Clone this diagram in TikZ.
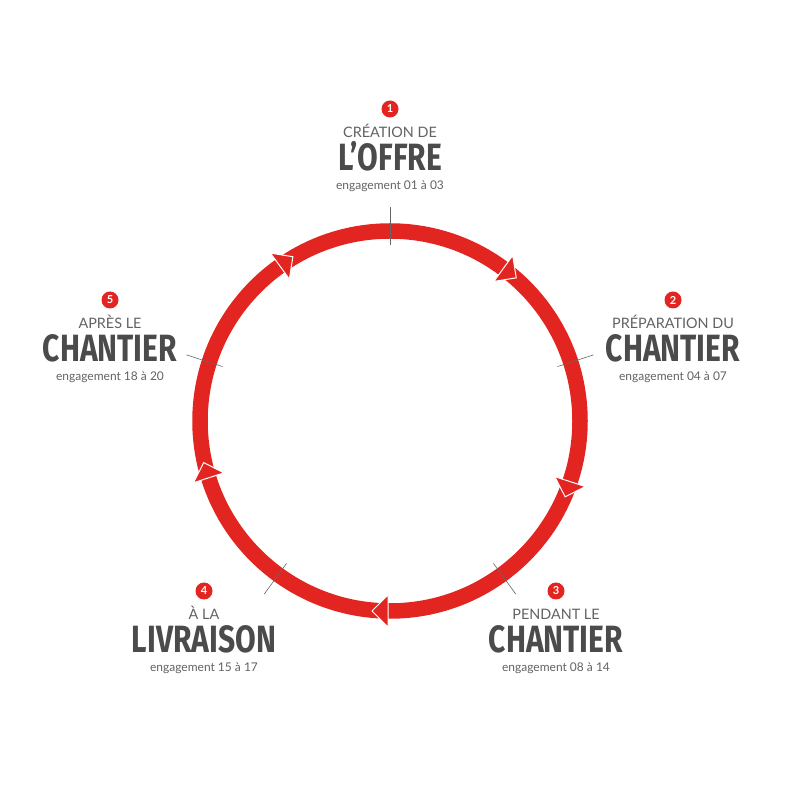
\documentclass[tikz,border=0pt]{standalone}
\usepackage{fontspec}
\setmainfont{Lato}
\newfontfamily\titlefont[FakeStretch=0.79]{Fira Sans}
\usetikzlibrary{positioning}
\definecolor{ringred}{HTML}{E32521}
\definecolor{titlegray}{HTML}{4B4B4B}
\definecolor{capgray}{HTML}{626262}

\begin{document}
\begin{tikzpicture}[x=1pt, y=1pt,
    num/.style={circle, fill=ringred, text=white, inner sep=0pt, minimum size=17pt, font=\bfseries\fontsize{11}{11}\selectfont},
    captext/.style={anchor=base, text=capgray, inner sep=0pt, font=\fontsize{14.4}{14.4}\selectfont},
    title/.style={anchor=base, text=titlegray, inner sep=0pt, font=\titlefont\bfseries\fontsize{38}{38}\selectfont},
    eng/.style={anchor=base, text=capgray, inner sep=0pt, font=\fontsize{12}{12}\selectfont},
    ring/.style={draw=ringred, line width=15.5pt},
    tick/.style={draw=black!60, line width=0.6pt},
    arrowhd/.style={fill=ringred, draw=white, line width=1pt, line join=miter}]
    \useasboundingbox (0,0) rectangle (800,800);

    % cycle
    \coordinate (c) at (390,379);
    \draw[ring] (c) circle[radius=190];

    \draw[tick, shift={(c)}] (90:176) -- (90:214);
    \draw[tick, shift={(c)}] (18:176) -- (18:214);
    \draw[tick, shift={(c)}] (-54:176) -- (-54:214);
    \draw[tick, shift={(c)}] (-126:176) -- (-126:214);
    \draw[tick, shift={(c)}] (162:176) -- (162:214);

    \filldraw[arrowhd, shift={(c)}, rotate=-36] (2,174) -- (2,206) -- (18,190) -- cycle;
    \filldraw[arrowhd, shift={(c)}, rotate=-108] (2,174) -- (2,206) -- (18,190) -- cycle;
    \filldraw[arrowhd, shift={(c)}, rotate=-180] (2,174) -- (2,206) -- (18,190) -- cycle;
    \filldraw[arrowhd, shift={(c)}, rotate=-252] (2,174) -- (2,206) -- (18,190) -- cycle;
    \filldraw[arrowhd, shift={(c)}, rotate=36] (2,174) -- (2,206) -- (18,190) -- cycle;

    % stage 1
    \node (n_num1) [num] at (390,691) {1};
    \node (n_cap1) [captext] at (390,662) {CRÉATION DE};
    \node (n_title1) [title] at (390,629) {L’OFFRE};
    \node (n_eng1) [eng] at (390,610) {engagement 01 à 03};

    % stage 2
    \node (n_num2) [num] at (673,500) {2};
    \node (n_cap2) [captext] at (673,471) {PRÉPARATION DU};
    \node (n_title2) [title] at (673,438) {CHANTIER};
    \node (n_eng2) [eng] at (673,419) {engagement 04 à 07};

    % stage 3
    \node (n_num3) [num] at (556,209) {3};
    \node (n_cap3) [captext] at (556,180) {PENDANT LE};
    \node (n_title3) [title] at (556,147) {CHANTIER};
    \node (n_eng3) [eng] at (556,128) {engagement 08 à 14};

    % stage 4
    \node (n_num4) [num] at (204,209) {4};
    \node (n_cap4) [captext] at (204,180) {À LA};
    \node (n_title4) [title] at (204,147) {LIVRAISON};
    \node (n_eng4) [eng] at (204,128) {engagement 15 à 17};

    % stage 5
    \node (n_num5) [num] at (110,500) {5};
    \node (n_cap5) [captext] at (110,471) {APRÈS LE};
    \node (n_title5) [title] at (110,438) {CHANTIER};
    \node (n_eng5) [eng] at (110,419) {engagement 18 à 20};
\end{tikzpicture}
\end{document}
